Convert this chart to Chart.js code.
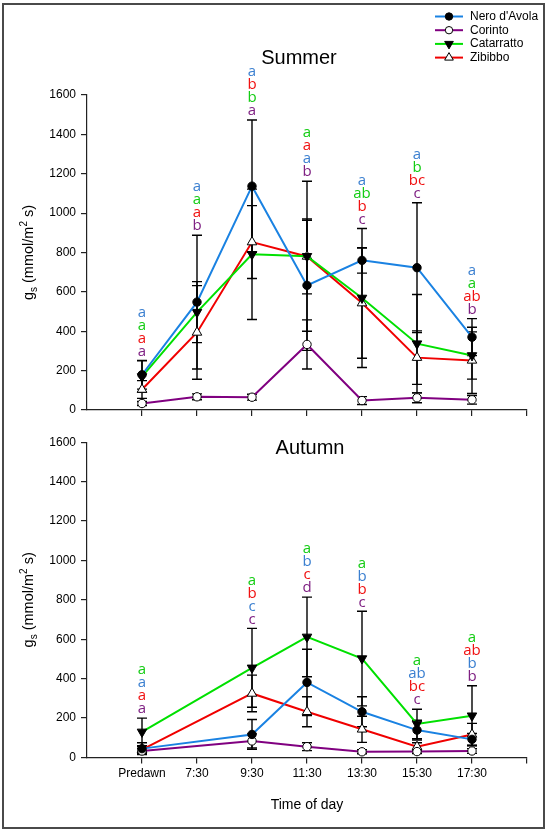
<!DOCTYPE html>
<html>
<head>
<meta charset="utf-8">
<script src="https://cdn.jsdelivr.net/npm/chart.js@4.4.1/dist/chart.umd.min.js"></script>
<style>
body { margin: 0; background: #fff; }
#wrap { position: relative; width: 550px; height: 830px; }
#frame { position: absolute; left: 2px; top: 3px; width: 539px; height: 822px; border: 2px solid #4a4a4a; }
canvas { position: absolute; left: 0; }
</style>
</head>
<body>
<div id="wrap">
  <canvas id="summer" width="550" height="430" style="top:0"></canvas>
  <canvas id="autumn" width="550" height="400" style="top:430px"></canvas>
  <div id="frame"></div>
</div>
<script>
// time points (x = 1..7 on the axis)
var timeLabels = ['Predawn', '7:30', '9:30', '11:30', '13:30', '15:30', '17:30'];
var seriesNames = ["Nero d'Avola", 'Corinto', 'Catarratto', 'Zibibbo'];

// summer means and error bars
var summerNero = [179, 548, 1137, 633, 760, 723, 370];
var summerNeroErr = [73, 340, 336, 330, 65, 330, 94];
var summerCorinto = [33, 67, 65, 333, 48, 62, 52];
var summerCorintoErr = [10, 15, 15, 125, 20, 25, 22];
var summerCatarratto = [170, 497, 791, 781, 569, 337, 277];
var summerCatarrattoErr = [80, 155, 331, 381, 353, 250, 120];
var summerZibibbo = [104, 394, 853, 780, 543, 266, 252];
var summerZibibboErr = [45, 238, 185, 190, 280, 136, 168];

// autumn means and error bars (no 7:30 reading)
var autumnNero = [45, null, 117, 381, 232, 139, 92];
var autumnNeroErr = [30, null, 76, 168, 76, 50, 30];
var autumnCorinto = [33, null, 84, 55, 29, 30, 33];
var autumnCorintoErr = [12, null, 36, 20, 10, 10, 12];
var autumnCatarratto = [130, null, 455, 612, 502, 170, 212];
var autumnCatarrattoErr = [70, null, 200, 202, 240, 75, 152];
var autumnZibibbo = [40, null, 325, 232, 143, 55, 117];
var autumnZibibboErr = [15, null, 93, 76, 66, 20, 56];

// significance letters per series, and stacking order (top -> bottom) per time point
var summerLetters = [
  ['a', 'a', 'a', 'a', 'a', 'a', 'a'],
  ['a', 'b', 'a', 'b', 'c', 'c', 'b'],
  ['a', 'a', 'b', 'a', 'ab', 'b', 'a'],
  ['a', 'a', 'b', 'a', 'b', 'bc', 'ab']
];
var summerOrder = [[0, 2, 3, 1], [0, 2, 3, 1], [0, 3, 2, 1], [2, 3, 0, 1], [0, 2, 3, 1], [0, 2, 3, 1], [0, 2, 3, 1]];
var autumnLetters = [
  ['a', null, 'c', 'b', 'b', 'ab', 'b'],
  ['a', null, 'c', 'd', 'c', 'c', 'b'],
  ['a', null, 'a', 'a', 'a', 'a', 'a'],
  ['a', null, 'b', 'c', 'b', 'bc', 'ab']
];
var autumnOrder = [[2, 0, 3, 1], [], [2, 3, 0, 1], [2, 0, 3, 1], [2, 0, 3, 1], [2, 0, 3, 1], [2, 3, 0, 1]];

var yTicks = [0, 200, 400, 600, 800, 1000, 1200, 1400, 1600];

// styles
var lineColors = ['#1a82e2', '#800080', '#00e000', '#f00000'];
var letterColors = ['#3a7fd0', '#7e1f82', '#12cc12', '#f01010'];
var pointStyles = ['circle', 'circle', 'triangle', 'triangle'];
var pointFills = ['#000', '#fff', '#000', '#fff'];
var pointRot = [0, 0, 180, 0];
var pointSizes = [4.2, 4.2, 5.5, 5.5];

Chart.defaults.color = '#000';
Chart.defaults.font.family = '"Liberation Sans", Arial, sans-serif';
Chart.defaults.font.size = 12;

function makeDatasets(values, errs) {
    return values.map(function (vals, k) {
        return {
            label: seriesNames[k],
            data: vals.map(function (v, i) { return { x: i + 1, y: v }; }),
            err: errs[k],
            borderColor: lineColors[k],
            borderWidth: 2,
            pointStyle: pointStyles[k],
            pointRotation: pointRot[k],
            pointRadius: pointSizes[k],
            pointHoverRadius: pointSizes[k],
            pointBackgroundColor: pointFills[k],
            pointBorderColor: '#000',
            pointBorderWidth: 1,
            spanGaps: true,
            tension: 0,
            fill: false
        };
    });
}

// black error bars behind the lines
var errorBars = {
    id: 'errorBars',
    beforeDatasetsDraw: function (chart) {
        var ctx = chart.ctx, x = chart.scales.x, y = chart.scales.y;
        ctx.save();
        ctx.strokeStyle = '#000';
        ctx.lineWidth = 1.4;
        chart.data.datasets.forEach(function (ds) {
            ds.data.forEach(function (p, i) {
                if (p.y == null) return;
                var e = ds.err[i];
                var px = x.getPixelForValue(p.x);
                var t = y.getPixelForValue(p.y + e);
                var b = y.getPixelForValue(Math.max(0, p.y - e));
                ctx.beginPath();
                ctx.moveTo(px, t); ctx.lineTo(px, b);
                ctx.moveTo(px - 5, t); ctx.lineTo(px + 5, t);
                ctx.moveTo(px - 5, b); ctx.lineTo(px + 5, b);
                ctx.stroke();
            });
        });
        ctx.restore();
    }
};

// letters stacked above the highest error bar of each time point
var letterStacks = {
    id: 'letterStacks',
    afterDatasetsDraw: function (chart, args, opts) {
        var ctx = chart.ctx, x = chart.scales.x, y = chart.scales.y;
        var dss = chart.data.datasets;
        ctx.save();
        ctx.font = '15px "Open Sans", sans-serif';
        ctx.textAlign = 'center';
        ctx.textBaseline = 'middle';
        opts.order.forEach(function (ord, i) {
            if (!ord.length) return;
            var top = 0;
            dss.forEach(function (ds) {
                var v = ds.data[i].y;
                if (v != null) top = Math.max(top, v + ds.err[i]);
            });
            var py = y.getPixelForValue(top) - 9;
            var px = x.getPixelForValue(i + 1);
            for (var j = ord.length - 1; j >= 0; j--) {
                var k = ord[j];
                ctx.fillStyle = letterColors[k];
                ctx.fillText(opts.letters[k][i], px, py);
                py -= 13;
            }
        });
        ctx.restore();
    }
};

// panel title, y axis title with sub/superscript, optional legend and x title
var panelText = {
    id: 'panelText',
    afterDraw: function (chart, args, opts) {
        var ctx = chart.ctx, area = chart.chartArea;
        var dpr = chart.currentDevicePixelRatio;
        ctx.save();
        ctx.fillStyle = '#000';
        ctx.font = '20px "Liberation Sans", Arial, sans-serif';
        ctx.textAlign = 'center';
        ctx.textBaseline = 'middle';
        ctx.fillText(opts.title, opts.titleX, opts.titleY);

        // y title
        var big = '14.5px "Liberation Sans", Arial, sans-serif';
        var small = '10px "Liberation Sans", Arial, sans-serif';
        var parts = [['g', big, 0], ['s', small, 3.5], [' (mmol/m', big, 0], ['2', small, -6], [' s)', big, 0]];
        var total = 0;
        parts.forEach(function (p) { ctx.font = p[1]; total += ctx.measureText(p[0]).width; });
        ctx.translate(33, (area.top + area.bottom) / 2);
        ctx.rotate(-Math.PI / 2);
        ctx.textAlign = 'left';
        ctx.textBaseline = 'alphabetic';
        var cx = -total / 2;
        parts.forEach(function (p) {
            ctx.font = p[1];
            ctx.fillText(p[0], cx, p[2]);
            cx += ctx.measureText(p[0]).width;
        });
        ctx.restore();

        ctx.save();
        ctx.setTransform(dpr, 0, 0, dpr, 0, 0);
        if (opts.xTitle) {
            ctx.fillStyle = '#000';
            ctx.font = '14px "Liberation Sans", Arial, sans-serif';
            ctx.textAlign = 'center';
            ctx.textBaseline = 'middle';
            ctx.fillText(opts.xTitle, (area.left + area.right) / 2, opts.xTitleY);
        }
        if (opts.legend) {
            ctx.font = '12px "Liberation Sans", Arial, sans-serif';
            ctx.textAlign = 'left';
            ctx.textBaseline = 'middle';
            chart.data.datasets.forEach(function (ds, k) {
                var ly = 16.5 + k * 13.7;
                ctx.strokeStyle = lineColors[k];
                ctx.lineWidth = 2;
                ctx.beginPath();
                ctx.moveTo(435, ly); ctx.lineTo(463, ly);
                ctx.stroke();
                ctx.fillStyle = pointFills[k];
                ctx.strokeStyle = '#000';
                ctx.lineWidth = 1;
                Chart.helpers.drawPoint(ctx, {
                    pointStyle: pointStyles[k], rotation: pointRot[k],
                    radius: pointSizes[k] - 0.5, borderWidth: 1
                }, 449, ly);
                ctx.fillStyle = '#000';
                ctx.fillText(ds.label, 470, ly);
            });
        }
        ctx.restore();
    }
};

function makeChart(id, values, errs, opts) {
    return new Chart(document.getElementById(id), {
        type: 'line',
        data: { datasets: makeDatasets(values, errs) },
        plugins: [errorBars, letterStacks, panelText],
        options: {
            responsive: false,
            animation: false,
            events: [],
            layout: { padding: { left: 0, right: 23, top: opts.top, bottom: 0 } },
            scales: {
                x: {
                    type: 'linear', min: 0, max: 8,
                    afterFit: function (s) { s.height = opts.xHeight; },
                    afterBuildTicks: function (s) {
                        s.ticks = [0, 1, 2, 3, 4, 5, 6, 7, 8].map(function (v) { return { value: v }; });
                    },
                    ticks: {
                        autoSkip: false, maxRotation: 0, padding: 3,
                        callback: function (v) { return opts.showLabels ? (timeLabels[v - 1] || '') : ''; }
                    },
                    grid: {
                        drawOnChartArea: false, tickLength: 6, lineWidth: 1.2,
                        color: function (c) { return c.tick && c.tick.value === 0 ? 'rgba(0,0,0,0)' : '#222'; }
                    },
                    border: { display: true, color: '#222', width: 1.2 }
                },
                y: {
                    min: 0, max: 1600,
                    afterFit: function (s) { s.width = 87; },
                    afterBuildTicks: function (s) {
                        s.ticks = yTicks.map(function (v) { return { value: v }; });
                    },
                    ticks: { padding: 5, callback: function (v) { return String(v); } },
                    grid: { drawOnChartArea: false, tickLength: 6, color: '#222', lineWidth: 1.2 },
                    border: { display: true, color: '#222', width: 1.2 }
                }
            },
            plugins: {
                legend: { display: false },
                tooltip: { enabled: false },
                letterStacks: { letters: opts.letters, order: opts.order },
                panelText: opts.text
            }
        }
    });
}

makeChart('summer',
    [summerNero, summerCorinto, summerCatarratto, summerZibibbo],
    [summerNeroErr, summerCorintoErr, summerCatarrattoErr, summerZibibboErr],
    {
        top: 95, xHeight: 20, showLabels: false,
        letters: summerLetters, order: summerOrder,
        text: { title: 'Summer', titleX: 299, titleY: 58, legend: true }
    });

makeChart('autumn',
    [autumnNero, autumnCorinto, autumnCatarratto, autumnZibibbo],
    [autumnNeroErr, autumnCorintoErr, autumnCatarrattoErr, autumnZibibboErr],
    {
        top: 11.5, xHeight: 72.5, showLabels: true,
        letters: autumnLetters, order: autumnOrder,
        text: { title: 'Autumn', titleX: 310, titleY: 18, xTitle: 'Time of day', xTitleY: 375 }
    });
</script>
</body>
</html>
